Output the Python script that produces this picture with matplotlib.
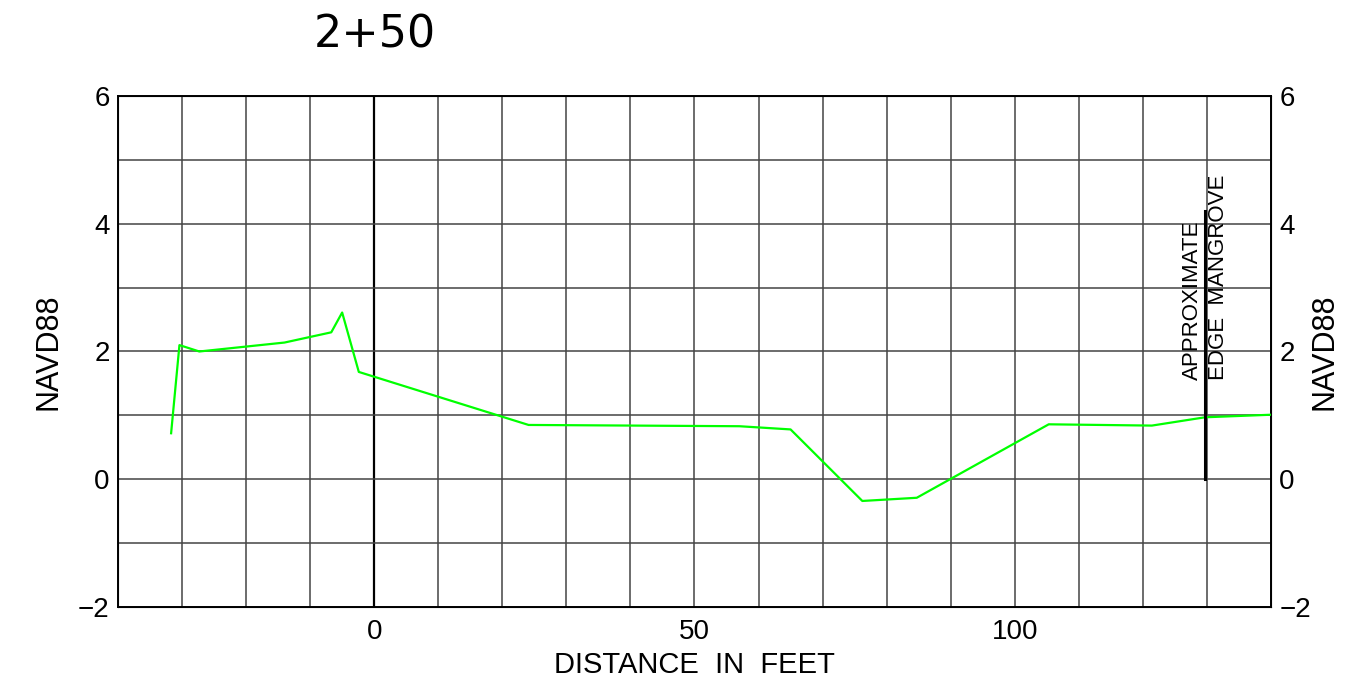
import numpy as np
import matplotlib.pyplot as plt

# ground profile, station 2+50
dist = [-31.7, -30.4, -27.3, -14.0, -6.7, -5.0, -2.4, 24.1, 57.0, 65.0, 76.2, 84.7, 105.3, 121.4, 129.7, 140.0]
elev = [0.72, 2.10, 2.00, 2.14, 2.30, 2.61, 1.68, 0.85, 0.83, 0.78, -0.34, -0.29, 0.86, 0.84, 0.97, 1.01]

mangrove_x = 129.7
mangrove_top = 4.2

xticks = [0, 50, 100]
yticks = [-2, 0, 2, 4, 6]
ylabels = ['\u22122', '0', '2', '4', '6']

plt.rcParams['font.family'] = ['Liberation Sans', 'DejaVu Sans']

fig = plt.figure(figsize=(13.51, 6.93), dpi=100)
ax = fig.add_axes([0.0873, 0.1241, 0.8535, 0.7374])

# grid: every 10 ft across, every 1 ft up
for gx in np.arange(-30, 140, 10):
    if gx == 0:
        ax.axvline(gx, color='black', lw=1.6, zorder=1)
    else:
        ax.axvline(gx, color='#444444', lw=1.1, zorder=1)
for gy in np.arange(-1, 6, 1):
    ax.axhline(gy, color='#444444', lw=1.1, zorder=1)

ax.plot(dist, elev, color='#00ff00', lw=1.6, zorder=3)

ax.plot([mangrove_x, mangrove_x], [0, mangrove_top], color='black', lw=2.2, zorder=4)
ax.text(mangrove_x - 0.4, 1.55, 'APPROXIMATE', rotation=90, ha='right', va='bottom',
        fontsize=16)
ax.text(mangrove_x + 0.4, 1.55, 'EDGE  MANGROVE', rotation=90, ha='left', va='bottom',
        fontsize=16)

ax.set_xlim(-40, 140)
ax.set_ylim(-2, 6)
ax.set_xticks(xticks)
ax.set_yticks(yticks)
ax.set_yticklabels(ylabels)
ax.tick_params(length=0, labelsize=20, pad=6)
ax.tick_params(axis='x', pad=9)
for s in ax.spines.values():
    s.set_linewidth(1.4)

ax.set_xlabel('DISTANCE  IN  FEET', fontsize=21, labelpad=4)
ax.set_ylabel('NAVD88', fontsize=22)
ax.yaxis.set_label_coords(-0.047, 0.5)

ax2 = ax.twinx()
ax2.set_ylim(-2, 6)
ax2.set_yticks(yticks)
ax2.set_yticklabels(ylabels)
ax2.tick_params(length=0, labelsize=20, pad=6)
ax2.set_ylabel('NAVD88', fontsize=22)
ax2.yaxis.set_label_coords(1.033, 0.5)

fig.text(375 / 1351, 1 - 35 / 693, '2+50', fontsize=32, ha='center', va='center',
         family='DejaVu Sans')

plt.savefig('out.png', dpi=100)
